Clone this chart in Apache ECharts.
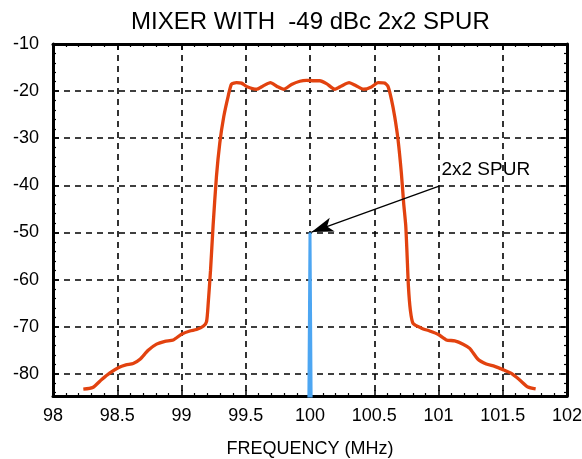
<!DOCTYPE html>
<html>
<head>
<meta charset="utf-8">
<script src="https://cdn.jsdelivr.net/npm/echarts@6/dist/echarts.min.js"></script>
<style>html,body{margin:0;padding:0;background:#fff}#c{width:582px;height:459px}</style>
</head>
<body>
<div id="c"></div>
<script>
// ---- data ----
const titleText = 'MIXER WITH  -49 dBc 2x2 SPUR';
const xName = 'FREQUENCY (MHz)';
const spurLabel = '2x2 SPUR';
const xMin = 98, xMax = 102, xStep = 0.5;
const yMin = -84.7, yMax = -10;

const signalFreq = [98.236,98.309,98.379,98.443,98.508,98.568,98.624,98.677,98.741,98.806,98.871,98.936,99.0,99.065,99.117,99.169,99.195,99.208,99.226,99.246,99.272,99.298,99.329,99.363,99.389,99.428,99.467,99.506,99.584,99.635,99.692,99.744,99.796,99.856,99.921,99.973,100.03,100.076,100.128,100.193,100.245,100.304,100.361,100.418,100.478,100.530,100.582,100.607,100.634,100.659,100.685,100.711,100.729,100.745,100.755,100.766,100.781,100.802,100.867,100.931,100.996,101.061,101.126,101.191,101.243,101.307,101.372,101.437,101.502,101.567,101.632,101.696,101.756];
const signalLevel = [-83.25,-82.9,-81.2,-79.8,-78.7,-78.1,-77.8,-76.9,-75.0,-73.7,-73.1,-72.8,-71.6,-70.9,-70.6,-69.9,-68.9,-65.0,-58.0,-48.5,-38.1,-31.0,-25.4,-21.1,-18.5,-18.2,-18.3,-19.0,-19.6,-18.9,-18.2,-19.0,-19.6,-18.6,-17.9,-17.7,-17.8,-17.8,-18.4,-19.6,-18.9,-18.2,-18.9,-19.6,-19.1,-18.2,-18.3,-19.0,-21.8,-25.4,-30.3,-37.4,-43.8,-48.5,-54.4,-61.5,-66.5,-69.3,-70.3,-70.9,-71.6,-72.8,-73.0,-73.7,-74.6,-76.9,-77.9,-78.4,-79.1,-79.9,-81.3,-82.8,-83.2];

const spurFreq = [99.99, 100.0, 100.01];
const spurLevel = [-90, -50, -90];

const arrowStart = [101.01, -40.1];
const arrowEnd = [100.012, -49.9];
const labelPos = [101.368, -36.6];

// ---- chart ----
const FONT = '"Liberation Sans", Arial, Helvetica, sans-serif';
const pair = (xs, ys) => xs.map((x, i) => [x, ys[i]]);
const chart = echarts.init(document.getElementById('c'), null, {renderer: 'canvas'});

const tickStyle = {show: true, inside: true, length: 6, lineStyle: {color: '#000', width: 1.5}};
const minorStyle = {show: true, splitNumber: 5, length: 3, lineStyle: {color: '#000', width: 1.2}};
const axisLineStyle = {show: true, onZero: false, lineStyle: {color: '#000', width: 3}};
const dashed = {show: true, lineStyle: {color: '#000', width: 1.6, type: [6, 5]}};

chart.setOption({
  animation: false,
  backgroundColor: '#fff',
  title: {
    text: titleText, left: 126, top: 5,
    textStyle: {fontFamily: FONT, fontSize: 24, fontWeight: 'normal', color: '#000'}
  },
  grid: {left: 53, right: 15, top: 44, bottom: 63, containLabel: false, outerBoundsMode: 'none'},
  xAxis: [{
    type: 'value', min: xMin, max: xMax, interval: xStep, position: 'bottom',
    name: xName, nameLocation: 'middle', nameGap: 44,
    nameTextStyle: {fontFamily: FONT, fontSize: 18, color: '#000'},
    axisLine: axisLineStyle, axisTick: tickStyle, minorTick: minorStyle,
    splitLine: dashed,
    axisLabel: {fontFamily: FONT, fontSize: 18, color: '#000', margin: 11}
  }, {
    type: 'value', min: xMin, max: xMax, interval: xStep, position: 'top',
    axisLine: axisLineStyle, axisTick: tickStyle, minorTick: minorStyle,
    splitLine: {show: false}, axisLabel: {show: false}
  }],
  yAxis: [{
    type: 'value', min: yMin, max: yMax, splitNumber: 7, position: 'left',
    axisLine: axisLineStyle, axisTick: tickStyle, minorTick: minorStyle,
    splitLine: dashed,
    axisLabel: {fontFamily: FONT, fontSize: 18, color: '#000', margin: 14,
      formatter: v => (Math.abs(v % 10) < 1e-6 ? String(v) : '')}
  }, {
    type: 'value', min: yMin, max: yMax, splitNumber: 7, position: 'right',
    axisLine: axisLineStyle, axisTick: tickStyle, minorTick: minorStyle,
    splitLine: {show: false}, axisLabel: {show: false}
  }],
  series: [{
    type: 'line', name: 'signal', data: pair(signalFreq, signalLevel),
    symbol: 'none', smooth: 0.2, clip: true,
    lineStyle: {color: '#E2420F', width: 3.3}
  }, {
    type: 'line', name: 'spur', data: pair(spurFreq, spurLevel),
    symbol: 'none', clip: true,
    lineStyle: {color: '#4DA6F2', width: 3},
    markLine: {
      silent: true, symbol: ['none', 'arrow'], symbolSize: [11, 22],
      lineStyle: {color: '#000', width: 1.3, type: 'solid'},
      label: {show: false},
      data: [[{coord: arrowStart}, {coord: arrowEnd}]]
    },
    markPoint: {
      silent: true,
      data: [{coord: labelPos, symbol: 'circle', symbolSize: 0,
        label: {show: true, position: 'inside', formatter: spurLabel,
          fontFamily: FONT, fontSize: 19, color: '#000'}}]
    }
  }]
});
</script>
</body>
</html>
